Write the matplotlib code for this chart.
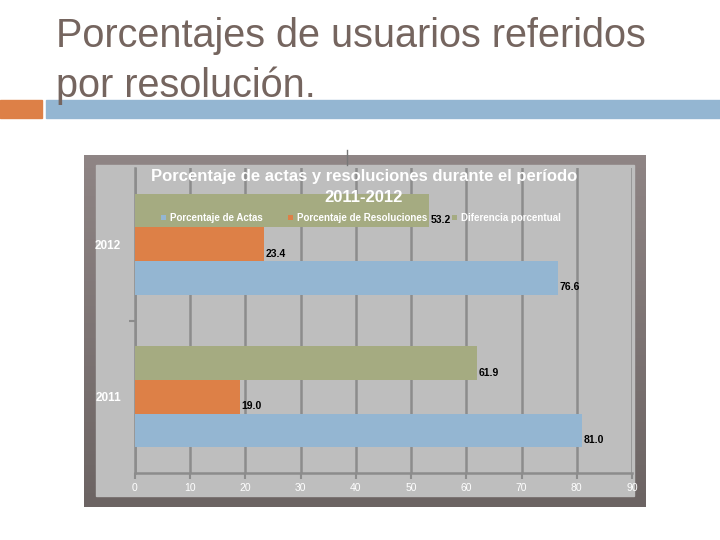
import numpy as np
import matplotlib.pyplot as plt
from matplotlib.patches import Rectangle
from matplotlib.colors import LinearSegmentedColormap

years = ["2011", "2012"]
actas = [81.0, 76.6]
resoluciones = [19.0, 23.4]
diferencia = [61.9, 53.2]
series_names = ["Porcentaje de Actas", "Porcentaje de Resoluciones", "Diferencia porcentual"]
xticks = [0, 10, 20, 30, 40, 50, 60, 70, 80, 90]

blue = "#94b6d2"
orange = "#dd8047"
green = "#a5ab81"
title_col = "#75655f"

plt.rcParams['font.family'] = ['Liberation Sans', 'DejaVu Sans']

W, H = 720, 540
fig = plt.figure(figsize=(7.2, 5.4), dpi=100)
fig.patch.set_facecolor("white")

def fx(x):
    return x / W

def fy(y):
    return 1 - y / H

# slide title
fig.text(fx(56), fy(47), "Porcentajes de usuarios referidos", fontsize=28.5,
         color=title_col, va="baseline", ha="left")
fig.text(fx(56), fy(97), "por resolución.", fontsize=28.5,
         color=title_col, va="baseline", ha="left")

# slide decoration bars
fig.patches.append(Rectangle((fx(0), fy(118)), fx(42), 18 / H, transform=fig.transFigure,
                             color=orange, zorder=0))
fig.patches.append(Rectangle((fx(46), fy(118)), fx(674), 18 / H, transform=fig.transFigure,
                             color=blue, zorder=0))

# chart frame with gradient
bg = fig.add_axes([fx(84), fy(507), fx(646 - 84), (507 - 155) / H])
grad = np.linspace(0, 1, 100).reshape(-1, 1)
cm = LinearSegmentedColormap.from_list("frame", ["#8f8585", "#6c6463"])
bg.imshow(grad, aspect="auto", cmap=cm, extent=[0, 1, 0, 1])
bg.add_patch(Rectangle((12 / 562, 11 / 352), (634 - 96) / 562, (496 - 165) / 352,
                       color="#bebebe", transform=bg.transAxes))
bg.set_axis_off()
fig.add_artist(plt.Line2D([fx(347), fx(347)], [fy(150), fy(165)], color="#777777", lw=1,
                          transform=fig.transFigure))

ax = fig.add_axes([fx(135), fy(473), fx(632 - 135), (473 - 168) / H])
ax.set_facecolor("none")
pos = np.arange(len(years))
h = 0.22
ax.barh(pos - h, actas, height=h, color=blue, label=series_names[0], zorder=3)
ax.barh(pos, resoluciones, height=h, color=orange, label=series_names[1], zorder=3)
ax.barh(pos + h, diferencia, height=h, color=green, label=series_names[2], zorder=3)

for vals, off in [(actas, -h), (resoluciones, 0), (diferencia, h)]:
    for p, v in zip(pos, vals):
        ax.text(v + 0.3, p + off - 0.03, f"{v:.1f}", fontsize=7.5, fontweight="bold",
                color="black", va="top", ha="left", zorder=5)

ax.set_xlim(0, 90)
ax.set_ylim(-0.5, 1.5)
ax.set_xticks(xticks)
ax.set_xticklabels([str(t) for t in xticks], color="white", fontsize=7.5)
ax.set_yticks(pos)
ax.set_yticklabels(years, color="white", fontsize=8.5, fontweight="bold")
ax.set_yticks([0.5], minor=True)
ax.tick_params(axis="y", which="major", length=0, pad=10)
ax.tick_params(axis="y", which="minor", length=4, color="#8c8c8c", width=1.5)
ax.tick_params(axis="x", length=4, color="#8c8c8c", width=1.5, pad=3)
ax.grid(axis="x", color="#8c8c8c", lw=1.8, zorder=1)
for s in ["top", "right"]:
    ax.spines[s].set_visible(False)
for s in ["left", "bottom"]:
    ax.spines[s].set_color("#8c8c8c")
    ax.spines[s].set_linewidth(1.8)

fig.text(fx(364), fy(176), "Porcentaje de actas y resoluciones durante el período",
         fontsize=12, fontweight="bold", color="white", ha="center", va="center", zorder=10)
fig.text(fx(364), fy(198), "2011-2012", fontsize=12, fontweight="bold", color="white",
         ha="center", va="center", zorder=10)

leg = ax.legend(loc="center", bbox_to_anchor=(fx(361), fy(218)), bbox_transform=fig.transFigure,
                ncol=3, frameon=False, fontsize=7, handlelength=0.5, handleheight=0.5,
                handletextpad=0.4, columnspacing=2.6, labelcolor="white")
leg.set_zorder(10)
for t in leg.get_texts():
    t.set_fontweight("bold")

fig.savefig("out.png", dpi=100)
